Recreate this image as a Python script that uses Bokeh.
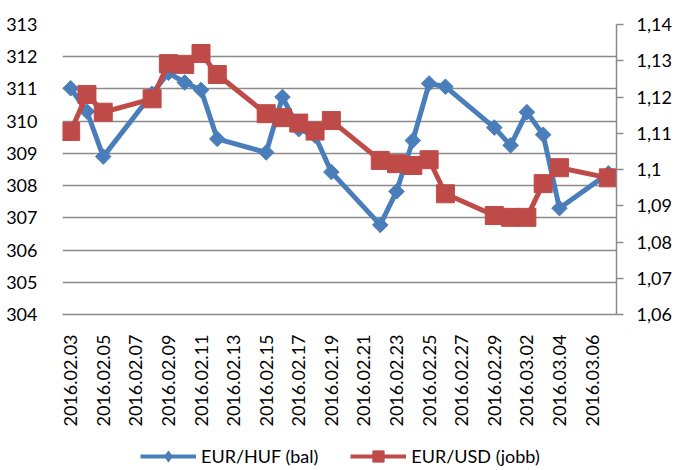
import math
import pandas as pd
from bokeh.plotting import figure
from bokeh.layouts import column
from bokeh.models import (Range1d, LinearAxis, FixedTicker, DatetimeTickFormatter,
                          Legend, LegendItem, ColumnDataSource)
from bokeh.embed import file_html
from bokeh.resources import INLINE

# ---- data ----
dates = ["2016.02.03", "2016.02.04", "2016.02.05", "2016.02.08", "2016.02.09",
         "2016.02.10", "2016.02.11", "2016.02.12", "2016.02.15", "2016.02.16",
         "2016.02.17", "2016.02.18", "2016.02.19", "2016.02.22", "2016.02.23",
         "2016.02.24", "2016.02.25", "2016.02.26", "2016.02.29", "2016.03.01",
         "2016.03.02", "2016.03.03", "2016.03.04", "2016.03.07"]
eur_huf = [311.02, 310.30, 308.90, 310.85, 311.50, 311.20, 310.97, 309.45,
           309.03, 310.75, 309.75, 309.55, 308.42, 306.78, 307.82, 309.40,
           311.17, 311.07, 309.80, 309.25, 310.28, 309.58, 307.30, 308.38]
eur_usd = [1.1105, 1.1207, 1.1158, 1.1195, 1.1292, 1.1290, 1.1320, 1.1262,
           1.1154, 1.1143, 1.1128, 1.1106, 1.1135, 1.1025, 1.1016, 1.1011,
           1.1027, 1.0933, 1.0873, 1.0868, 1.0868, 1.0961, 1.1005, 1.0977]

x_tick_dates = ["2016.02.03", "2016.02.05", "2016.02.07", "2016.02.09", "2016.02.11",
                "2016.02.13", "2016.02.15", "2016.02.17", "2016.02.19", "2016.02.21",
                "2016.02.23", "2016.02.25", "2016.02.27", "2016.02.29", "2016.03.02",
                "2016.03.04", "2016.03.06"]
left_ticks = [304, 305, 306, 307, 308, 309, 310, 311, 312, 313]
right_ticks = [1.06, 1.07, 1.08, 1.09, 1.10, 1.11, 1.12, 1.13, 1.14]
right_labels = ["1,06", "1,07", "1,08", "1,09", "1,1", "1,11", "1,12", "1,13", "1,14"]
series_names = ["EUR/HUF (bal)", "EUR/USD (jobb)"]

# ---- styles ----
FONT = "Lato"
FS = "18px"
GRID = "#8a8a8a"
BLUE = "#4a7ebb"
RED = "#be4b48"

src = ColumnDataSource(dict(x=pd.to_datetime(dates, format="%Y.%m.%d"),
                            huf=eur_huf, usd=eur_usd))

x_start = pd.Timestamp("2016-02-02 12:00")
x_end = pd.Timestamp("2016-03-07 12:00")

p = figure(width=676, height=434, x_axis_type="datetime",
           x_range=Range1d(x_start, x_end),
           y_range=Range1d(left_ticks[0], left_ticks[-1]),
           output_backend="svg", toolbar_location=None,
           min_border_left=62, min_border_right=60,
           min_border_top=24, min_border_bottom=120)
p.extra_y_ranges = {"right": Range1d(right_ticks[0], right_ticks[-1])}
p.outline_line_color = None
p.background_fill_color = "white"
p.border_fill_color = "white"

# left axis
ya = p.yaxis[0]
ya.ticker = FixedTicker(ticks=left_ticks)
ya.axis_line_color = None
ya.major_tick_line_color = None
ya.minor_tick_line_color = None
ya.major_label_standoff = 19
ya.major_label_text_font = FONT
ya.major_label_text_font_size = FS
ya.major_label_text_color = "black"

# right axis
ra = LinearAxis(y_range_name="right", ticker=FixedTicker(ticks=right_ticks),
                major_label_overrides=dict(zip(right_ticks, right_labels)))
ra.axis_line_color = GRID
ra.axis_line_width = 1.5
ra.major_tick_line_color = GRID
ra.major_tick_line_width = 1.5
ra.major_tick_in = 0
ra.major_tick_out = 7
ra.minor_tick_line_color = None
ra.major_label_standoff = 13
ra.major_label_text_font = FONT
ra.major_label_text_font_size = FS
ra.major_label_text_color = "black"
p.add_layout(ra, "right")

# x axis
epoch = pd.Timestamp("1970-01-01")
xt = [(pd.to_datetime(d, format="%Y.%m.%d") - epoch) // pd.Timedelta(milliseconds=1)
      for d in x_tick_dates]
xa = p.xaxis[0]
xa.ticker = FixedTicker(ticks=xt)
fmt = "%Y.%m.%d"
xa.formatter = DatetimeTickFormatter(days=fmt, months=fmt, years=fmt, hours=fmt,
                                     hourmin=fmt, minutes=fmt, minsec=fmt,
                                     seconds=fmt, milliseconds=fmt, microseconds=fmt)
xa.major_label_orientation = math.pi / 2
xa.axis_line_color = GRID
xa.axis_line_width = 1.5
xa.major_tick_line_color = None
xa.minor_tick_line_color = None
xa.major_label_standoff = 14
xa.major_label_text_font = FONT
xa.major_label_text_font_size = FS
xa.major_label_text_color = "black"

p.xgrid.visible = False
p.ygrid.grid_line_color = GRID
p.ygrid.grid_line_width = 1.5

# series
p.line("x", "huf", source=src, line_color=BLUE, line_width=5, line_join="round")
p.scatter("x", "huf", source=src, marker="square", angle=math.pi / 4,
          size=11, fill_color=BLUE, line_color=BLUE)
p.line("x", "usd", source=src, y_range_name="right", line_color=RED,
       line_width=5, line_join="round")
p.scatter("x", "usd", source=src, y_range_name="right", marker="square",
          size=18, fill_color=RED, line_color=RED)

# legend strip underneath the chart (its renderers use the same data, out of view)
lg = figure(width=676, height=36, x_range=Range1d(0, 1), y_range=Range1d(0, 1),
            x_axis_location=None, y_axis_location=None,
            output_backend="svg", toolbar_location=None,
            min_border_left=0, min_border_right=0, min_border_top=0, min_border_bottom=0)
lg.outline_line_color = None
lg.grid.visible = False
kb_l = lg.line("x", "huf", source=src, line_color=BLUE, line_width=4)
kb_s = lg.scatter("x", "huf", source=src, marker="diamond", size=12,
                  fill_color=BLUE, line_color=BLUE)
kr_l = lg.line("x", "usd", source=src, line_color=RED, line_width=4)
kr_s = lg.scatter("x", "usd", source=src, marker="square", size=12,
                  fill_color=RED, line_color=RED)

legend = Legend(items=[LegendItem(label=series_names[0], renderers=[kb_l, kb_s]),
                       LegendItem(label=series_names[1], renderers=[kr_l, kr_s])],
                orientation="horizontal", location=(78, 0),
                border_line_color=None, background_fill_alpha=0,
                padding=0, spacing=32, margin=0,
                glyph_width=56, glyph_height=28, label_height=28, label_standoff=5,
                label_text_font=FONT, label_text_font_size=FS,
                label_text_color="black")
lg.add_layout(legend)

open("out.html", "w").write(file_html(column(p, lg, spacing=0), INLINE))
